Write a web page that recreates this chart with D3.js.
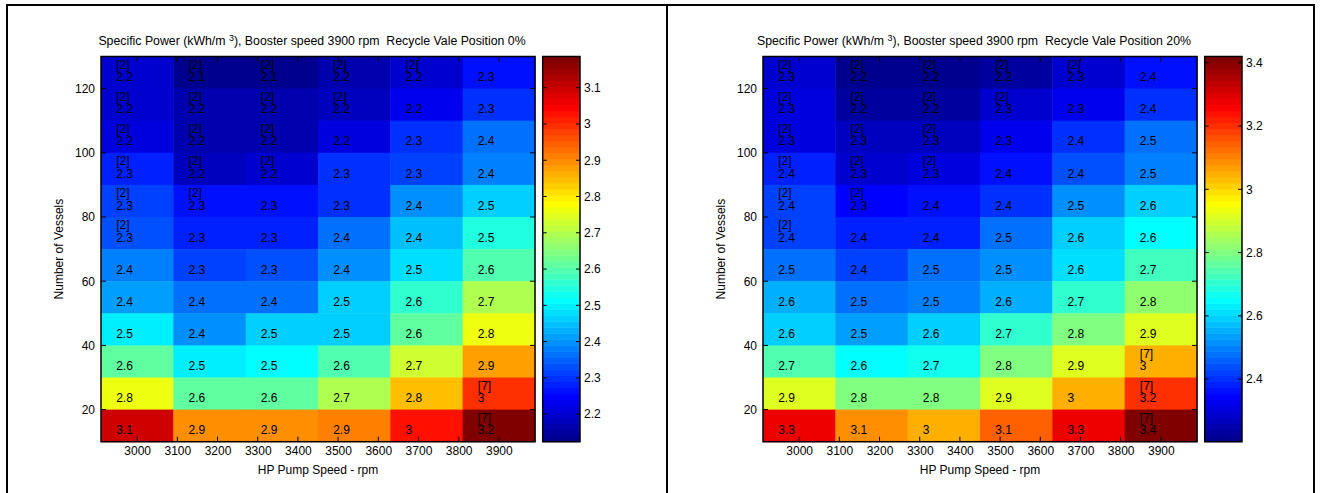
<!DOCTYPE html>
<html><head><meta charset="utf-8">
<script src="https://cdn.jsdelivr.net/npm/d3@7"></script>
<style>
body{margin:0;background:#fff;}
svg text{font-family:"Liberation Sans",Arial,sans-serif;fill:#000;white-space:pre;}
</style></head>
<body><svg id="chart" width="1321" height="493"></svg>
<script>
// ---------------- data ----------------
const speeds = [3000, 3180, 3360, 3540, 3720, 3900];          // HP pump speed (rpm), columns
const vessels = [125, 115, 105, 95, 85, 75, 65, 55, 45, 35, 25, 15]; // rows, top to bottom
const xTickValues = [3000, 3100, 3200, 3300, 3400, 3500, 3600, 3700, 3800, 3900];
const yTickValues = [20, 40, 60, 80, 100, 120];

const titleLeft = "Recycle Vale Position 0%";
const titleRight = "Recycle Vale Position 20%";

const valuesLeft = [
  [2.20, 2.124, 2.14, 2.16, 2.20, 2.26],
  [2.20, 2.16, 2.16, 2.18, 2.24, 2.29],
  [2.22, 2.17, 2.17, 2.21, 2.29, 2.36],
  [2.28, 2.19, 2.20, 2.29, 2.32, 2.38],
  [2.31, 2.26, 2.27, 2.30, 2.39, 2.47],
  [2.33, 2.28, 2.28, 2.37, 2.44, 2.54],
  [2.38, 2.31, 2.33, 2.39, 2.48, 2.60],
  [2.41, 2.36, 2.37, 2.46, 2.56, 2.69],
  [2.50, 2.39, 2.46, 2.47, 2.61, 2.77],
  [2.62, 2.50, 2.51, 2.60, 2.73, 2.88],
  [2.76, 2.61, 2.61, 2.70, 2.84, 2.99],
  [3.10, 2.90, 2.89, 2.92, 3.03, 3.186]
];
const notesLeft = [
  ["[2]", "[2]", "[2]", "[2]", "[2]", ""],
  ["[2]", "[2]", "[2]", "[2]", "", ""],
  ["[2]", "[2]", "[2]", "", "", ""],
  ["[2]", "[2]", "[2]", "", "", ""],
  ["[2]", "[2]", "", "", "", ""],
  ["[2]", "", "", "", "", ""],
  ["", "", "", "", "", ""],
  ["", "", "", "", "", ""],
  ["", "", "", "", "", ""],
  ["", "", "", "", "", ""],
  ["", "", "", "", "", "[7]"],
  ["", "", "", "", "", "[7]"]
];
const cbTicksLeft = [2.2, 2.3, 2.4, 2.5, 2.6, 2.7, 2.8, 2.9, 3.0, 3.1];

const valuesRight = [
  [2.29, 2.202, 2.22, 2.23, 2.28, 2.36],
  [2.30, 2.23, 2.23, 2.28, 2.33, 2.40],
  [2.31, 2.26, 2.27, 2.33, 2.41, 2.47],
  [2.38, 2.29, 2.30, 2.37, 2.44, 2.49],
  [2.42, 2.34, 2.37, 2.41, 2.51, 2.59],
  [2.42, 2.38, 2.39, 2.47, 2.59, 2.64],
  [2.48, 2.42, 2.47, 2.51, 2.61, 2.73],
  [2.56, 2.47, 2.49, 2.56, 2.70, 2.83],
  [2.60, 2.53, 2.59, 2.70, 2.80, 2.92],
  [2.74, 2.64, 2.67, 2.81, 2.92, 3.04],
  [2.92, 2.80, 2.81, 2.91, 3.04, 3.196],
  [3.28, 3.09, 3.04, 3.136, 3.27, 3.42]
];
const notesRight = [
  ["[2]", "[2]", "[2]", "[2]", "[2]", ""],
  ["[2]", "[2]", "[2]", "[2]", "", ""],
  ["[2]", "[2]", "[2]", "", "", ""],
  ["[2]", "[2]", "[2]", "", "", ""],
  ["[2]", "[2]", "", "", "", ""],
  ["[2]", "", "", "", "", ""],
  ["", "", "", "", "", ""],
  ["", "", "", "", "", ""],
  ["", "", "", "", "", ""],
  ["", "", "", "", "", "[7]"],
  ["", "", "", "", "", "[7]"],
  ["", "", "", "", "", "[7]"]
];
const cbTicksRight = [2.4, 2.6, 2.8, 3.0, 3.2, 3.4];

// ---------------- jet colormap (64) ----------------
function u(k){ if(k<1||k>47) return 0; if(k<=16) return k/16; if(k<=31) return 1; return (48-k)/16; }
const jet64 = d3.range(1,65).map(i => d3.rgb(255*u(i-24), 255*u(i-8), 255*u(i+8)).formatHex());

const svg = d3.select("#chart");
const fmt = v => String(+v.toFixed(1));

// frame lines
const frame = svg.append("g").attr("stroke","#000").attr("stroke-width",2);
frame.append("line").attr("x1",7).attr("x2",7).attr("y1",4).attr("y2",493);
frame.append("line").attr("x1",667).attr("x2",667).attr("y1",4).attr("y2",493);
frame.append("line").attr("x1",1314).attr("x2",1314).attr("y1",4).attr("y2",493);
frame.append("line").attr("x1",6).attr("x2",1315).attr("y1",5).attr("y2",5);

function panel(ox, values, notes, titleTail, cbTicks){
  const g = svg.append("g").attr("transform",`translate(${ox},0)`);
  const L = 101, R = 535, T = 56.5, B = 441.7;
  const x = d3.scaleLinear().domain([2910, 3990]).range([L, R]);
  const y = d3.scaleLinear().domain([10, 130]).range([B, T]);
  const flat = values.flat();
  const ext = d3.extent(flat);
  const color = d3.scaleQuantize().domain(ext).range(jet64);

  // cells
  values.forEach((row, ri) => {
    row.forEach((v, ci) => {
      g.append("rect")
        .attr("x", x(speeds[ci]-90)).attr("y", y(vessels[ri]+5))
        .attr("width", x(speeds[ci]+90)-x(speeds[ci]-90)+0.5)
        .attr("height", y(vessels[ri]-5)-y(vessels[ri]+5)+0.5)
        .attr("fill", color(v));
    });
  });
  // cell text
  values.forEach((row, ri) => {
    row.forEach((v, ci) => {
      const tx = x(speeds[ci]) - 21, ty = y(vessels[ri]);
      g.append("text").attr("x", tx).attr("y", ty+5.5).attr("dominant-baseline","middle")
        .attr("font-size", 12).text(fmt(v));
      if (notes[ri][ci]) g.append("text").attr("x", tx).attr("y", ty-7).attr("dominant-baseline","middle")
        .attr("font-size", 12).text(notes[ri][ci]);
    });
  });

  // axes box with inward ticks on all sides
  const tl = 5;
  const box = g.append("g").attr("stroke","#000").attr("fill","none");
  box.append("rect").attr("x",L).attr("y",T).attr("width",R-L).attr("height",B-T).attr("stroke-width",1.5);
  xTickValues.forEach(t => {
    box.append("line").attr("x1",x(t)).attr("x2",x(t)).attr("y1",B).attr("y2",B-tl);
    box.append("line").attr("x1",x(t)).attr("x2",x(t)).attr("y1",T).attr("y2",T+tl);
  });
  yTickValues.forEach(t => {
    box.append("line").attr("x1",L).attr("x2",L+tl).attr("y1",y(t)).attr("y2",y(t));
    box.append("line").attr("x1",R).attr("x2",R-tl).attr("y1",y(t)).attr("y2",y(t));
  });
  // tick labels via d3 axes
  const xa = g.append("g").attr("transform",`translate(0,${B})`)
    .call(d3.axisBottom(x).tickValues(xTickValues).tickSize(0).tickPadding(5).tickFormat(d3.format("d")));
  const ya = g.append("g").attr("transform",`translate(${L},0)`)
    .call(d3.axisLeft(y).tickValues(yTickValues).tickSize(0).tickPadding(6).tickFormat(d3.format("d")));
  [xa, ya].forEach(a => { a.select(".domain").remove(); a.selectAll("text").attr("font-size",12).attr("font-family",null); });

  // labels
  g.append("text").attr("x",(L+R)/2).attr("y",474).attr("text-anchor","middle").attr("font-size",12).text("HP Pump Speed - rpm");
  g.append("text").attr("transform",`translate(63,${(T+B)/2}) rotate(-90)`).attr("text-anchor","middle").attr("font-size",12).text("Number of Vessels");
  const tt = g.append("text").attr("x",(L+R)/2-6).attr("y",45).attr("text-anchor","middle").attr("font-size",12.3);
  tt.append("tspan").text("Specific Power (kWh/m ");
  tt.append("tspan").attr("dy",-4).attr("font-size",9).text("3");
  tt.append("tspan").attr("dy",4).text("), Booster speed 3900 rpm  " + titleTail);

  // colorbar
  const cL = 542.7, cR = 580;
  const cy = d3.scaleLinear().domain(ext).range([B, T]);
  const n = jet64.length, step = (ext[1]-ext[0])/n;
  jet64.forEach((c, i) => {
    const v0 = ext[0] + i*step, v1 = v0 + step;
    g.append("rect").attr("x",cL).attr("width",cR-cL).attr("y",cy(v1)).attr("height",cy(v0)-cy(v1)+0.5).attr("fill",c);
  });
  const cb = g.append("g").attr("stroke","#000").attr("fill","none");
  cb.append("rect").attr("x",cL).attr("y",T).attr("width",cR-cL).attr("height",B-T).attr("stroke-width",1.5);
  cbTicks.forEach(t => {
    cb.append("line").attr("x1",cL).attr("x2",cL+4).attr("y1",cy(t)).attr("y2",cy(t));
    cb.append("line").attr("x1",cR).attr("x2",cR-4).attr("y1",cy(t)).attr("y2",cy(t));
  });
  const ca = g.append("g").attr("transform",`translate(${cR},0)`)
    .call(d3.axisRight(cy).tickValues(cbTicks).tickSize(0).tickPadding(4).tickFormat(fmt));
  ca.select(".domain").remove();
  ca.selectAll("text").attr("font-size",12).attr("font-family",null);
}

panel(0, valuesLeft, notesLeft, titleLeft, cbTicksLeft);
panel(662, valuesRight, notesRight, titleRight, cbTicksRight);
</script></body></html>
